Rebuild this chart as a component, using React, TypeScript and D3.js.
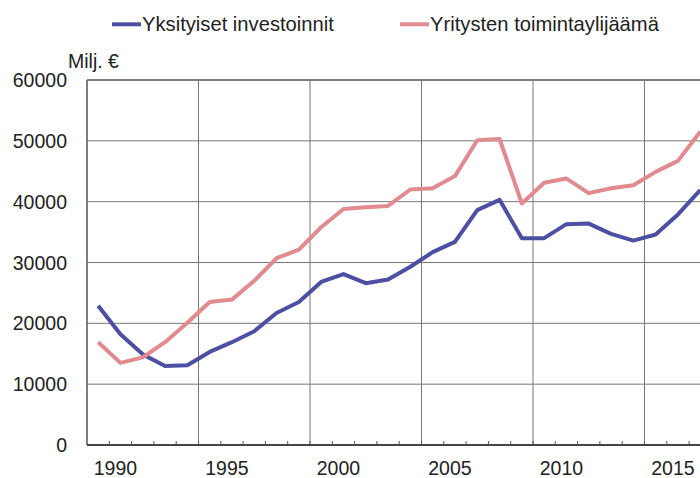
import { useEffect, useRef } from "react"
import * as d3 from "d3"

const years = [
  1989, 1990, 1991, 1992, 1993, 1994, 1995, 1996, 1997, 1998, 1999, 2000, 2001, 2002,
  2003, 2004, 2005, 2006, 2007, 2008, 2009, 2010, 2011, 2012, 2013, 2014, 2015, 2016,
]

// Yksityiset investoinnit, milj. €
const investments = [
  22900, 18200, 14900, 13000, 13100, 15300, 16900, 18700, 21700, 23500, 26800, 28100, 26600, 27200,
  29300, 31700, 33400, 38600, 40300, 34000, 34000, 36300, 36400, 34700, 33600, 34600, 37900, 41900,
]

// Yritysten toimintaylijäämä, milj. €
const surplus = [
  16900, 13500, 14400, 16900, 20100, 23500, 23900, 27000, 30700, 32100, 35800, 38800, 39100, 39300,
  42000, 42200, 44200, 50100, 50300, 39700, 43100, 43800, 41400, 42200, 42700, 44900, 46700, 51500,
]

const yTicks = [0, 10000, 20000, 30000, 40000, 50000, 60000]
const labelYears = [1990, 1995, 2000, 2005, 2010, 2015]

const series = [
  { name: "Yksityiset investoinnit", values: investments, color: "#4d50a2" },
  { name: "Yritysten toimintaylijäämä", values: surplus, color: "#e18a90" },
]

const W = 700
const H = 478
const FONT = "'Liberation Sans', Arial, sans-serif"

const App = () => {
  const ref = useRef<SVGSVGElement>(null)

  useEffect(() => {
    const svg = d3.select(ref.current)
    svg.selectAll("*").remove()

    const left = 87
    const top = 80
    const bottom = 445
    const step = 22.3

    const x = d3
      .scaleBand<number>()
      .domain(years)
      .range([left, left + years.length * step])
    const y = d3.scaleLinear().domain([0, 60000]).range([bottom, top])
    const xRight = left + years.length * step

    // horizontal grid
    svg
      .append("g")
      .selectAll("line")
      .data(yTicks.filter((d) => d > 0))
      .join("line")
      .attr("x1", left)
      .attr("x2", xRight)
      .attr("y1", (d) => y(d))
      .attr("y2", (d) => y(d))
      .attr("stroke", (d) => (d === 60000 ? "#555" : "#777"))
      .attr("stroke-width", (d) => (d === 60000 ? 1.5 : 1))

    // vertical grid every 5 years (between categories)
    const boundaries = years.slice(1).map((yr) => x(yr) as number)
    svg
      .append("g")
      .selectAll("line")
      .data(years.slice(1).filter((yr) => (yr - 1989) % 5 === 0))
      .join("line")
      .attr("x1", (d) => x(d) as number)
      .attr("x2", (d) => x(d) as number)
      .attr("y1", top)
      .attr("y2", bottom)
      .attr("stroke", "#777")
      .attr("stroke-width", 1)

    // minor x ticks
    svg
      .append("g")
      .selectAll("line")
      .data(boundaries)
      .join("line")
      .attr("x1", (d) => d)
      .attr("x2", (d) => d)
      .attr("y1", bottom)
      .attr("y2", bottom - 4)
      .attr("stroke", "#555")
      .attr("stroke-width", 1)

    // axes
    svg
      .append("line")
      .attr("x1", left)
      .attr("x2", left)
      .attr("y1", top)
      .attr("y2", bottom)
      .attr("stroke", "#555")
      .attr("stroke-width", 1.5)
    svg
      .append("line")
      .attr("x1", left)
      .attr("x2", xRight)
      .attr("y1", bottom)
      .attr("y2", bottom)
      .attr("stroke", "#444")
      .attr("stroke-width", 1.8)

    // lines
    const line = d3
      .line<number>()
      .x((_, i) => (x(years[i]) as number) + x.bandwidth() / 2)
      .y((d) => y(d))

    series.forEach((s) => {
      svg
        .append("path")
        .datum(s.values)
        .attr("d", line)
        .attr("fill", "none")
        .attr("stroke", s.color)
        .attr("stroke-width", 4)
        .attr("stroke-linejoin", "round")
    })

    // y labels
    svg
      .append("g")
      .selectAll("text")
      .data(yTicks)
      .join("text")
      .attr("x", 67)
      .attr("y", (d) => y(d))
      .attr("dy", "0.36em")
      .attr("text-anchor", "end")
      .attr("font-family", FONT)
      .attr("font-size", 19.5)
      .attr("fill", "#222")
      .text((d) => String(d))

    // x labels
    svg
      .append("g")
      .selectAll("text")
      .data(labelYears)
      .join("text")
      .attr("x", (d) => (x(d) as number) + x.bandwidth() / 2 - 5)
      .attr("y", 474.5)
      .attr("text-anchor", "middle")
      .attr("font-family", FONT)
      .attr("font-size", 19.5)
      .attr("fill", "#222")
      .text((d) => String(d))

    svg
      .append("text")
      .attr("x", 68)
      .attr("y", 67.5)
      .attr("font-family", FONT)
      .attr("font-size", 19.5)
      .attr("fill", "#222")
      .text("Milj. €")

    // legend
    const legendX = [112, 400]
    series.forEach((s, i) => {
      const g = svg.append("g").attr("transform", `translate(${legendX[i]},24.3)`)
      g.append("line")
        .attr("x1", 0)
        .attr("x2", 29)
        .attr("stroke", s.color)
        .attr("stroke-width", 4)
      g.append("text")
        .attr("x", 30)
        .attr("y", 6.8)
        .attr("font-family", FONT)
        .attr("font-size", 20.2)
        .attr("fill", "#222")
        .text(s.name)
    })
  }, [])

  return (
    <svg
      ref={ref}
      width={W}
      height={H}
      style={{ position: "absolute", left: 0, top: 0, background: "#fff" }}
    />
  )
}

export default App
